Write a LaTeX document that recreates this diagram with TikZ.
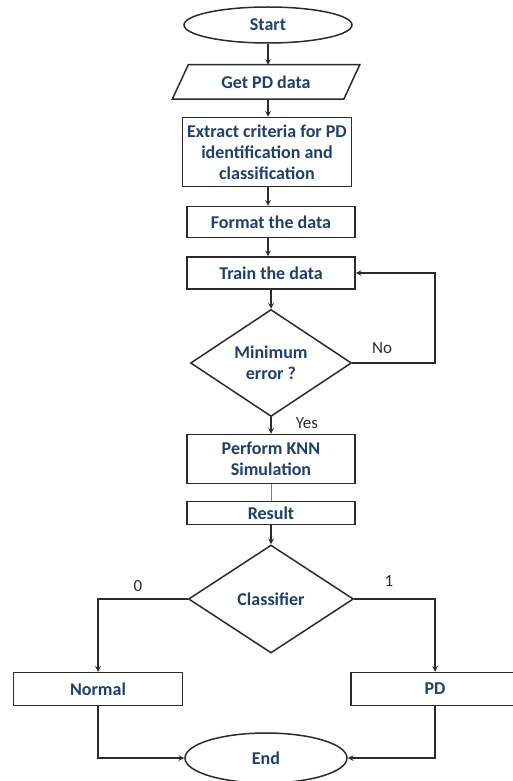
\documentclass[tikz,border=0pt]{standalone}
\usepackage{fontspec}
\setmainfont{Carlito}
\usetikzlibrary{shapes.geometric}
\definecolor{txtblue}{HTML}{1F3F6E}
\definecolor{linegray}{HTML}{2B2B2B}
\tikzset{
	box/.style={draw=linegray,line width=1.5pt,rectangle,text=txtblue,font=\fontsize{18}{21}\selectfont\bfseries,align=center,inner sep=0pt},
	oval/.style={box,ellipse},
	decide/.style={box,diamond,aspect=1.5},
	lab/.style={font=\fontsize{17}{20}\selectfont,text=linegray}
}

\begin{document}
\begin{tikzpicture}[x=1pt,y=-1pt,>=stealth,line width=1.5pt,draw=linegray]
	\useasboundingbox (0,0) rectangle (513,781);
	\node[oval,minimum width=168,minimum height=36] (start) at (268,25) {Start};
	\node[box,draw=none,minimum width=162,minimum height=33] (getpd) at (266,82) {Get PD data};
	\draw[linegray] ([xshift=4]getpd.north west) -- ([xshift=12]getpd.north east) -- ([xshift=-4]getpd.south east) -- ([xshift=-12]getpd.south west) -- cycle;
	\node[box,minimum width=169,minimum height=69] (extract) at (267,152) {Extract criteria for PD\\identification and\\classification};
	\node[box,minimum width=168,minimum height=31] (format) at (271,222) {Format the data};
	\node[box,minimum width=168,minimum height=32] (train) at (271,273) {Train the data};
	\node[decide,minimum width=161,minimum height=107] (minerr) at (271,363) {Minimum\\error ?};
	\node[box,minimum width=168,minimum height=49] (knn) at (271,459) {Perform KNN\\Simulation};
	\node[box,minimum width=168,minimum height=23] (result) at (271,513) {Result};
	\node[decide,minimum width=165,minimum height=108] (classify) at (271,599) {Classifier};
	\node[box,minimum width=169,minimum height=33] (normal) at (98,689) {Normal};
	\node[box,minimum width=168,minimum height=33] (pd) at (435,689) {PD};
	\node[oval,minimum width=162,minimum height=50] (finish) at (266,758) {End};

	\draw[->,linegray] (start) -- (getpd.north -| start);
	\draw[->,linegray] (getpd.south -| start) -- (extract.north -| start);
	\draw[->,linegray] (extract.south -| start) -- (format.north -| start);
	\draw[->,linegray] (format.south -| start) -- (train.north -| start);
	\draw[->,linegray] (train.south -| minerr) -- (minerr.north);
	\draw[->,linegray] (minerr.east) -- (435,363) |- (train.east);
	\node[lab] (no) at (382,348) {No};
	\draw[->,linegray] (minerr.south) -- (knn.north);
	\node[lab] (yes) at (307,423) {Yes};
	\draw[gray,line width=1pt] (knn.south) -- (result.north);
	\draw[->,linegray] (result.south) -- (classify.north);
	\draw[->,linegray] (classify.west) -| (normal.north);
	\node[lab] (zero) at (138,586) {0};
	\draw[->,linegray] (classify.east) -| (pd.north);
	\node[lab] (one) at (389,581) {1};
	\draw[->,linegray] (normal.south) |- (finish.west);
	\draw[->,linegray] (pd.south) |- (finish.east);
\end{tikzpicture}
\end{document}
